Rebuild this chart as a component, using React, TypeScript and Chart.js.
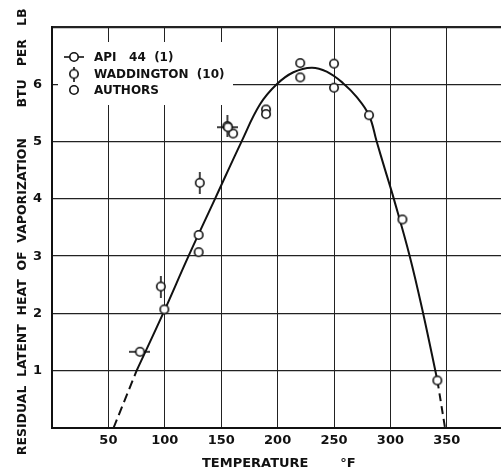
import React, { useEffect, useRef } from 'react';
import { Chart, registerables } from 'chart.js';

Chart.register(...registerables);

// ---- data ----
const seriesLabels = ['API\u00a0\u00a0\u00a044\u00a0\u00a0(1)', 'WADDINGTON  (10)', 'AUTHORS'];
const xTickValues = [0, 50, 100, 150, 200, 250, 300, 350];
const yTickValues = [0, 1, 2, 3, 4, 5, 6, 7];
const xLabelled = [50, 100, 150, 200, 250, 300, 350];
const yLabelled = [1, 2, 3, 4, 5, 6];

const apiX = [78, 156];
const apiY = [1.33, 5.25];

const waddX = [96.5, 131, 155.5];
const waddY = [2.47, 4.28, 5.27];

const authorsX = [99.6, 130, 130, 160.5, 189.7, 189.7, 220, 220, 250, 250, 281, 310.6, 341.6];
const authorsY = [2.07, 3.07, 3.37, 5.14, 5.56, 5.48, 6.37, 6.12, 6.36, 5.94, 5.46, 3.64, 0.83];

const curveX = [75, 98.5, 121, 144.5, 168, 184.4, 199.2, 214, 230.2, 243.5, 258, 270, 281, 287.8, 295.2, 303, 317.1, 329, 341.6];
const curveY = [1.0, 2.0, 3.0, 4.0, 5.0, 5.65, 6.0, 6.21, 6.29, 6.22, 6.02, 5.78, 5.46, 5.0, 4.51, 4.0, 3.0, 2.0, 0.83];

const dashLowX = [54.5, 75];
const dashLowY = [0, 1.0];
const dashHighX = [341.6, 348.4];
const dashHighY = [0.83, 0];

const NB = '\u00a0';
const xTitle = NB + 'TEMPERATURE' + NB.repeat(7) + '°F';
const yTitle =
  'RESIDUAL' + NB + NB + 'LATENT' + NB + NB + 'HEAT' + NB + NB + 'OF' + NB + NB + 'VAPORIZATION' +
  NB.repeat(7) + 'BTU' + NB.repeat(3) + 'PER' + NB.repeat(3) + 'LB' + NB + NB;

const FONT = '"DejaVu Sans", "Liberation Sans", sans-serif';
const INK = '#111';

function pts(xs: number[], ys: number[]) {
  return xs.map((x, i) => ({ x, y: ys[i] }));
}

function makeMarker(kind: 'h' | 'v' | 'o', whisker = 22) {
  const w = kind === 'h' ? whisker : 12;
  const h = kind === 'v' ? whisker : 12;
  const c = document.createElement('canvas');
  c.width = w;
  c.height = h;
  const g = c.getContext('2d')!;
  g.strokeStyle = INK;
  g.lineWidth = 1.6;
  g.beginPath();
  if (kind === 'h') {
    g.moveTo(0, h / 2);
    g.lineTo(w, h / 2);
  } else if (kind === 'v') {
    g.moveTo(w / 2, 0);
    g.lineTo(w / 2, h);
  }
  g.stroke();
  g.beginPath();
  g.arc(w / 2, h / 2, 4.2, 0, Math.PI * 2);
  g.fillStyle = '#fff';
  g.fill();
  g.stroke();
  return c;
}

export default function App() {
  const ref = useRef<HTMLCanvasElement>(null);

  useEffect(() => {
    const canvas = ref.current;
    if (!canvas) return;
    const apiImg = makeMarker('h', 21);
    const waddImg = makeMarker('v', 22);
    const circImg = makeMarker('o');
    const legendMarkers = [makeMarker('h', 20), makeMarker('v', 15), makeMarker('o')];

    const legendPlugin = {
      id: 'boxLegend',
      beforeDatasetsDraw(chart: any) {
        const { ctx, chartArea } = chart;
        const left = chartArea.left;
        const top = chartArea.top;
        ctx.save();
        ctx.fillStyle = '#fff';
        ctx.fillRect(left + 6, top + 15, 175, 63);
        ctx.font = `bold 12px ${FONT}`;
        ctx.fillStyle = INK;
        ctx.textBaseline = 'middle';
        ctx.textAlign = 'left';
        const rows = [30, 47, 63];
        seriesLabels.forEach((lab, i) => {
          const m = legendMarkers[i];
          ctx.drawImage(m, left + 22 - m.width / 2, top + rows[i] - m.height / 2);
          ctx.fillText(lab, left + 42, top + rows[i] + 0.5);
        });
        ctx.restore();
      },
    };

    const chart = new Chart(canvas, {
      type: 'scatter',
      data: {
        datasets: [
          { label: seriesLabels[0], data: pts(apiX, apiY), pointStyle: apiImg as any, pointRadius: 5 },
          { label: seriesLabels[1], data: pts(waddX, waddY), pointStyle: waddImg as any, pointRadius: 5 },
          { label: seriesLabels[2], data: pts(authorsX, authorsY), pointStyle: circImg as any, pointRadius: 5 },
          {
            label: 'curve',
            data: pts(curveX, curveY),
            showLine: true,
            pointRadius: 0,
            borderColor: INK,
            borderWidth: 2,
            tension: 0.4,
          } as any,
          {
            label: 'extrapolated low',
            data: pts(dashLowX, dashLowY),
            showLine: true,
            pointRadius: 0,
            borderColor: INK,
            borderWidth: 2,
            borderDash: [9, 5],
          },
          {
            label: 'extrapolated high',
            data: pts(dashHighX, dashHighY),
            showLine: true,
            pointRadius: 0,
            borderColor: INK,
            borderWidth: 2,
            borderDash: [8, 5],
          },
        ],
      },
      options: {
        responsive: false,
        animation: false,
        events: [],
        layout: { autoPadding: false, padding: { top: 27, right: 0, bottom: 0, left: 0 } },
        plugins: { legend: { display: false }, tooltip: { enabled: false } },
        scales: {
          x: {
            type: 'linear',
            position: 'bottom',
            min: 0,
            max: 398,
            afterBuildTicks: (s: any) => {
              s.ticks = xTickValues.map((v) => ({ value: v }));
            },
            ticks: {
              padding: 5,
              autoSkip: false,
              maxRotation: 0,
              color: INK,
              font: { family: FONT, size: 13, weight: 'bold' },
              callback: (v: any) => (xLabelled.includes(Number(v)) ? String(v) : ''),
            },
            grid: { color: '#222', lineWidth: 1, drawTicks: false },
            border: { display: true, color: INK, width: 2 },
            title: {
              display: true,
              text: xTitle,
              color: INK,
              font: { family: FONT, size: 13, weight: 'bold' },
              padding: { top: 0, bottom: 1 },
            },
            afterFit: (s: any) => {
              s.height = 44;
            },
          },
          y: {
            type: 'linear',
            min: 0,
            max: 7,
            afterBuildTicks: (s: any) => {
              s.ticks = yTickValues.map((v) => ({ value: v }));
            },
            ticks: {
              padding: 10,
              autoSkip: false,
              color: INK,
              font: { family: FONT, size: 13, weight: 'bold' },
              callback: (v: any) => (yLabelled.includes(Number(v)) ? String(v) : ''),
            },
            grid: {
              color: '#222',
              lineWidth: (c: any) => (c.tick && c.tick.value === 7 ? 2.2 : 1.3),
              drawTicks: false,
            },
            border: { display: true, color: INK, width: 2 },
            title: {
              display: true,
              text: yTitle,
              color: INK,
              font: { family: FONT, size: 12.5, weight: 'bold' },
              padding: { top: 15, bottom: 0 },
            },
            afterFit: (s: any) => {
              s.width = 52;
            },
          },
        },
      },
      plugins: [legendPlugin],
    });
    return () => chart.destroy();
  }, []);

  return (
    <div style={{ position: 'fixed', left: 0, top: 0, width: 501, height: 472, background: '#fff' }}>
      <canvas ref={ref} width={501} height={472} style={{ display: 'block' }} />
    </div>
  );
}
